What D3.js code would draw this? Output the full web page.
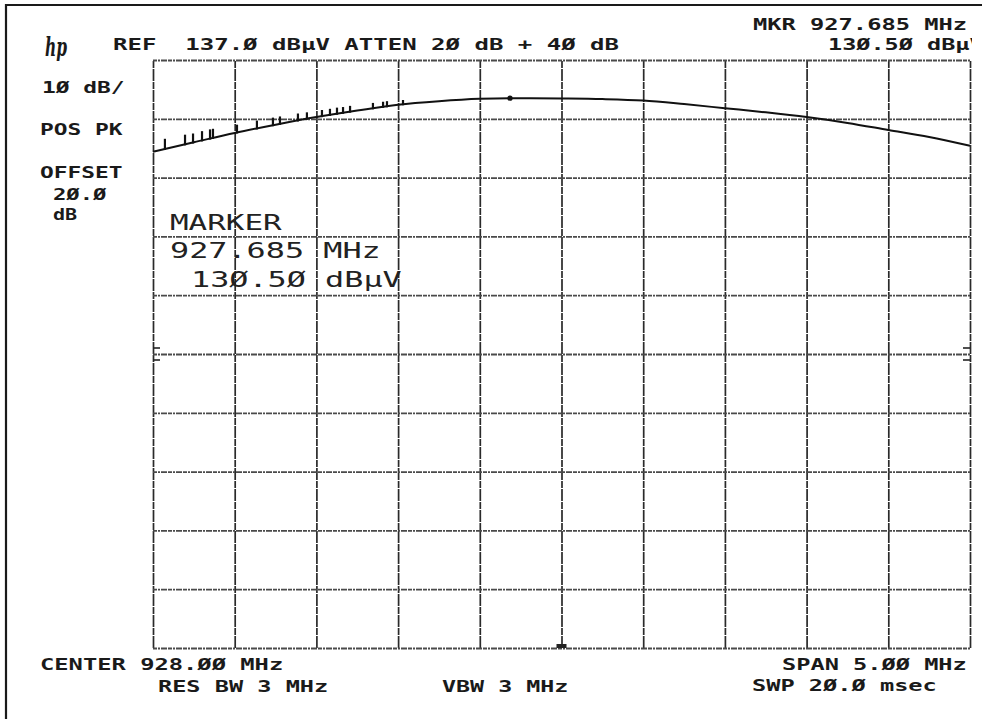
<!DOCTYPE html>
<html>
<head>
<meta charset="utf-8">
<script src="https://cdn.jsdelivr.net/npm/d3@7"></script>
<style>
  html, body { margin: 0; padding: 0; background: #fff; }
  svg { display: block; }
  .lbl { font-family: "DejaVu Sans Mono", "Liberation Mono", monospace; font-weight: bold; fill: #1a1a1a; }
  .lbl.big { font-weight: normal; fill: #222; }
</style>
</head>
<body>
<svg id="chart" width="982" height="719"></svg>
<script>
// Analyzer settings
const centerMHz = 928.00;
const spanMHz = 5.00;
const refLevel = 137.0;      // dBµV at the top graticule line
const dbPerDiv = 10;
const divisions = 10;

// Swept trace (positive peak detector)
const traceFreq = [925.5, 925.75, 926.0, 926.25, 926.5, 926.75, 927.0, 927.25, 927.5, 927.685,
                   927.75, 928.0, 928.25, 928.5, 928.75, 929.0, 929.25, 929.5, 929.75, 930.0, 930.25, 930.5];
const traceLevel = [121.4, 123.0, 124.6, 126.0, 127.3, 128.4, 129.4, 130.0, 130.4, 130.5,
                    130.5, 130.45, 130.35, 130.1, 129.5, 128.8, 128.1, 127.3, 126.3, 125.1, 123.9, 122.4];

// Short peaks riding on the rising edge of the trace
const spikeFreq = [925.573, 925.696, 925.745, 925.800, 925.849, 925.867, 926.014, 926.136, 926.234, 926.277,
                   926.387, 926.442, 926.534, 926.583, 926.626, 926.663, 926.706, 926.846, 926.908, 926.932, 927.030];
const spikePeak = [123.6, 124.3, 124.5, 124.9, 125.2, 125.3, 126.0, 126.7, 127.2, 127.4,
                   127.9, 128.1, 128.5, 128.7, 128.9, 129.0, 129.2, 129.7, 129.9, 130.0, 130.2];

// Marker readout
const markerFreq = 927.685;
const markerLevel = 130.50;

// Annotation texts
const refText = "REF  " + refLevel.toFixed(1) + " dBµV ATTEN 20 dB + 40 dB";
const scaleTexts = ["10 dB/", "POS PK", "OFFSET", "20.0", "dB"];
const bottomLeft = ["CENTER " + centerMHz.toFixed(2) + " MHz", "RES BW 3 MHz", "VBW 3 MHz"];
const bottomRight = ["SPAN " + spanMHz.toFixed(2) + " MHz", "SWP 20.0 msec"];

// plotter font draws slashed zeros
const pz = s => s.replace(/0/g, "\u00D8");

const svg = d3.select("#chart");

const plot = { left: 153, right: 970, top: 60, bottom: 648 };
const x = d3.scaleLinear()
  .domain([centerMHz - spanMHz / 2, centerMHz + spanMHz / 2])
  .range([plot.left, plot.right]);
const y = d3.scaleLinear()
  .domain([refLevel - dbPerDiv * divisions, refLevel])
  .range([plot.bottom, plot.top]);

const xGrid = d3.range(divisions + 1).map(i => x.domain()[0] + i * spanMHz / divisions);
const yGrid = d3.range(divisions + 1).map(i => refLevel - i * dbPerDiv);

// outer frame (top and left edges)
svg.append("path")
  .attr("d", `M6,719 L6,5 L982,5`)
  .attr("fill", "none").attr("stroke", "#1a1a1a").attr("stroke-width", 2.2);

// graticule via axes with full-length ticks
const gx = svg.append("g")
  .attr("transform", `translate(0,${plot.bottom})`)
  .call(d3.axisBottom(x).tickValues(xGrid).tickSize(-(plot.bottom - plot.top)).tickFormat(""));
gx.select(".domain").remove();
gx.selectAll(".tick line")
  .attr("stroke", "#2a2a2a").attr("stroke-width", 1.7).attr("stroke-dasharray", "12,1,7,1");

const gy = svg.append("g")
  .attr("transform", `translate(${plot.left},0)`)
  .call(d3.axisLeft(y).tickValues(yGrid).tickSize(-(plot.right - plot.left)).tickFormat(""));
gy.select(".domain").remove();
gy.selectAll(".tick line")
  .attr("stroke", "#4a4a4a").attr("stroke-width", 1.8).attr("stroke-dasharray", "4,1,2,1,6,1");

// display-line indicators on the centre graticule line
const midDb = refLevel - dbPerDiv * divisions / 2;
[[plot.left, 1], [plot.right, -1]].forEach(([px, dir]) => {
  [-6, 6].forEach(off => {
    svg.append("line")
      .attr("x1", px).attr("x2", px + dir * 7)
      .attr("y1", y(midDb) + off).attr("y2", y(midDb) + off)
      .attr("stroke", "#222").attr("stroke-width", 1.6);
  });
});

// centre frequency marker on the bottom line
svg.append("rect")
  .attr("x", x(centerMHz) - 5).attr("y", plot.bottom - 4)
  .attr("width", 10).attr("height", 4).attr("fill", "#222");

// trace
const traceData = traceFreq.map((f, i) => [f, traceLevel[i]]);
svg.append("path")
  .datum(traceData)
  .attr("fill", "none").attr("stroke", "#111").attr("stroke-width", 2)
  .attr("d", d3.line().x(d => x(d[0])).y(d => y(d[1])).curve(d3.curveMonotoneX));

// spikes rising from the trace
const levelAt = f => {
  const i = Math.max(1, d3.bisectLeft(traceFreq, f));
  const t = (f - traceFreq[i - 1]) / (traceFreq[i] - traceFreq[i - 1]);
  return traceLevel[i - 1] + t * (traceLevel[i] - traceLevel[i - 1]);
};
svg.append("g").selectAll("line")
  .data(spikeFreq.map((f, i) => [f, spikePeak[i]]))
  .join("line")
  .attr("x1", d => x(d[0])).attr("x2", d => x(d[0]))
  .attr("y1", d => y(levelAt(d[0])) + 1).attr("y2", d => y(d[1]))
  .attr("stroke", "#111").attr("stroke-width", 2.2);

// marker dot
svg.append("circle")
  .attr("cx", x(markerFreq)).attr("cy", y(markerLevel)).attr("r", 2.6).attr("fill", "#111");

// text helper: monospace plotter lettering with fixed pitch
function label(str, px, py, pitch, size, parent, cls) {
  const s = pz(str);
  return (parent || svg).append("text")
    .attr("class", "lbl" + (cls ? " " + cls : ""))
    .attr("x", px).attr("y", py)
    .attr("font-size", size)
    .attr("textLength", s.length * pitch - (pitch - size * 0.62))
    .attr("lengthAdjust", "spacingAndGlyphs")
    .attr("xml:space", "preserve")
    .style("white-space", "pre")
    .text(s);
}

const P = 14.6, FS = 15.5;

// hp logo
svg.append("text")
  .attr("x", 45).attr("y", 56)
  .attr("font-family", "DejaVu Serif, serif").attr("font-style", "italic").attr("font-weight", "bold")
  .attr("font-size", 26).attr("fill", "#1a1a1a")
  .attr("textLength", 22).attr("lengthAdjust", "spacingAndGlyphs")
  .text("hp");

// header
svg.append("defs").append("clipPath").attr("id", "hdrclip")
  .append("rect").attr("x", 0).attr("y", 0).attr("width", 972).attr("height", 60);
const hdr = svg.append("g").attr("clip-path", "url(#hdrclip)");
label(refText, 113, 50, P, FS, hdr);
label("MKR " + markerFreq.toFixed(3) + " MHz", 753, 30, P, FS, hdr);
label(markerLevel.toFixed(2) + " dBµV", 828, 50, P, FS, hdr);

// left-hand status column
label(scaleTexts[0], 42, 93, P, FS);
label(scaleTexts[1], 40, 135, P, FS);
label(scaleTexts[2], 40, 178, P, FS);
label(scaleTexts[3], 53, 200, P, FS);
label(scaleTexts[4], 53, 220, P, FS);

// marker block inside the graticule
const PL = 19.8, FL = 20.5;
label("MARKER", 170, 230, PL, FL, null, "big");
label(markerFreq.toFixed(3) + " MHz", 170, 258, PL, FL, null, "big");
label(markerLevel.toFixed(2) + " dBµV", 191, 287, PL, FL, null, "big");

// footer
label(bottomLeft[0], 40, 670, P, FS);
label(bottomLeft[1], 158, 692, P, FS);
label(bottomLeft[2], 442, 692, P, FS);
label(bottomRight[0], 782, 670, P, FS);
label(bottomRight[1], 752, 691, P, FS);
</script>
</body>
</html>
